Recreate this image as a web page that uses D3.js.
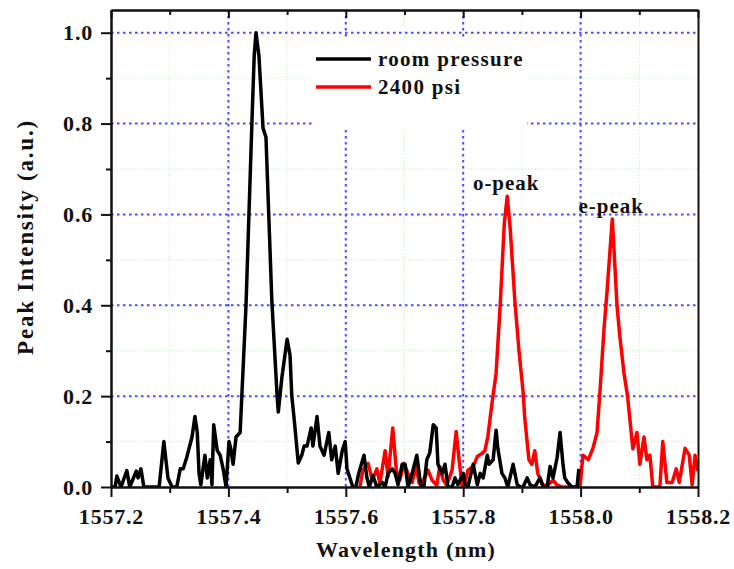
<!DOCTYPE html>
<html>
<head>
<meta charset="utf-8">
<script src="https://cdn.jsdelivr.net/npm/d3@7"></script>
<style>
  body { margin: 0; background: #fff; }
  text { font-family: "Liberation Serif", "Times New Roman", serif; font-weight: bold; fill: #111; }
  .axis .domain, .axis line { stroke: #111; stroke-width: 2; }
  .axis text { font-size: 22px; letter-spacing: 0.8px; }
</style>
</head>
<body>
<script>
// wavelength (nm), normalised peak intensity
var roomPressure = [
  [1557.200,0],[1557.207,0],[1557.210,0.024],[1557.217,0],[1557.227,0.036],[1557.232,0],[1557.243,0.035],[1557.246,0.02],[1557.251,0.04],[1557.256,0],
  [1557.282,0],[1557.290,0.10],[1557.297,0.02],[1557.304,0],[1557.312,0],[1557.318,0.04],[1557.323,0.04],[1557.329,0.065],[1557.338,0.11],[1557.343,0.155],
  [1557.347,0.12],[1557.350,0.03],[1557.353,0.005],[1557.360,0.07],[1557.364,0.02],[1557.369,0.06],[1557.372,0.005],[1557.375,0.137],[1557.381,0.08],[1557.386,0.07],
  [1557.391,0.04],[1557.396,0],[1557.401,0.10],[1557.404,0.085],[1557.408,0.05],[1557.413,0.11],[1557.420,0.12],[1557.425,0.26],[1557.430,0.40],[1557.435,0.60],
  [1557.440,0.80],[1557.444,0.95],[1557.447,1.0],[1557.452,0.95],[1557.459,0.79],[1557.464,0.77],[1557.469,0.59],[1557.474,0.41],[1557.483,0.20],[1557.485,0.165],
  [1557.491,0.24],[1557.500,0.325],[1557.505,0.29],[1557.508,0.20],[1557.512,0.15],[1557.519,0.053],[1557.525,0.07],[1557.529,0.09],[1557.534,0.09],[1557.541,0.13],
  [1557.544,0.09],[1557.551,0.155],[1557.556,0.09],[1557.563,0.07],[1557.571,0.12],[1557.576,0.06],[1557.582,0.09],[1557.587,0.03],[1557.594,0.08],[1557.599,0.10],
  [1557.602,0.04],[1557.607,0.02],[1557.612,0],[1557.617,0],[1557.622,0.03],[1557.631,0.07],[1557.636,0.02],[1557.640,0],[1557.646,0.025],[1557.653,0],
  [1557.662,0.01],[1557.667,0],[1557.672,0.03],[1557.679,0.04],[1557.684,0.03],[1557.689,0.005],[1557.696,0.05],[1557.701,0.05],[1557.706,0],[1557.713,0.03],
  [1557.721,0.07],[1557.728,0],[1557.733,0],[1557.738,0.06],[1557.743,0.075],[1557.749,0.137],[1557.754,0.13],[1557.757,0.05],[1557.764,0.03],[1557.769,0.05],
  [1557.774,0],[1557.781,0],[1557.786,0.02],[1557.791,0.005],[1557.800,0.03],[1557.803,0.005],[1557.808,0],[1557.817,0.05],[1557.824,0.005],[1557.829,0.03],
  [1557.834,0.02],[1557.841,0.07],[1557.844,0.05],[1557.851,0.06],[1557.856,0.125],[1557.859,0.085],[1557.866,0.03],[1557.871,0.02],[1557.876,0],[1557.885,0.05],
  [1557.892,0.005],[1557.897,0],[1557.902,0],[1557.909,0.02],[1557.914,0.005],[1557.922,0],[1557.931,0.02],[1557.936,0],[1557.943,0],[1557.948,0.045],
  [1557.953,0.02],[1557.960,0.065],[1557.965,0.12],[1557.970,0.05],[1557.973,0.02],[1557.978,0.01],[1557.985,0],[1557.994,0],[1557.997,0.04]
];

var highPressure = [
  [1557.624,0],[1557.629,0.037],[1557.638,0.052],[1557.645,0.015],[1557.653,0.04],[1557.658,0.008],[1557.667,0.08],[1557.672,0.023],[1557.680,0.13],[1557.686,0.037],
  [1557.692,0.015],[1557.699,0.052],[1557.706,0.03],[1557.713,0.01],[1557.720,0.045],[1557.725,0.008],[1557.732,0.015],[1557.740,0.037],[1557.747,0.015],[1557.755,0.004],
  [1557.760,0.045],[1557.766,0.015],[1557.772,0.004],[1557.781,0.037],[1557.788,0.122],[1557.793,0.06],[1557.798,0.004],[1557.803,0.008],[1557.808,0.037],[1557.817,0.045],
  [1557.824,0.067],[1557.832,0.074],[1557.837,0.08],[1557.842,0.111],[1557.849,0.184],[1557.856,0.25],[1557.863,0.40],[1557.870,0.58],[1557.875,0.64],[1557.880,0.57],
  [1557.885,0.47],[1557.888,0.41],[1557.895,0.30],[1557.902,0.21],[1557.905,0.15],[1557.912,0.06],[1557.917,0.05],[1557.922,0.08],[1557.927,0.03],[1557.936,0.004],
  [1557.944,0.004],[1557.953,0.015],[1557.960,0.004],[1557.968,0],[1557.978,0],[1557.990,0],[1557.999,0],[1558.004,0.07],[1558.013,0.06],[1558.021,0.085],
  [1558.028,0.12],[1558.033,0.21],[1558.040,0.35],[1558.045,0.43],[1558.054,0.59],[1558.057,0.52],[1558.062,0.40],[1558.067,0.33],[1558.074,0.25],[1558.080,0.20],
  [1558.089,0.084],[1558.096,0.12],[1558.101,0.05],[1558.108,0.11],[1558.113,0.06],[1558.118,0.07],[1558.123,0],[1558.135,0],[1558.140,0.10],[1558.147,0.01],
  [1558.156,0.01],[1558.163,0.04],[1558.168,0.01],[1558.178,0.085],[1558.185,0.07],[1558.190,0.005],[1558.195,0.07],[1558.200,0.035]
];

var seriesNames = ["room pressure", "2400 psi"];
var seriesColors = ["#000000", "#ff0000"];
var xTicks = [1557.2, 1557.4, 1557.6, 1557.8, 1558.0, 1558.2];
var xMinor = [1557.3, 1557.5, 1557.7, 1557.9, 1558.1];
var yTicks = [0.0, 0.2, 0.4, 0.6, 0.8, 1.0];
var yMinor = [0.1, 0.3, 0.5, 0.7, 0.9];
var peakLabels = [["o-peak", 1557.875, 0.64], ["e-peak", 1558.054, 0.59]];

var width = 734, height = 569;
var pLeft = 111, pRight = 698, pTop = 10, pBottom = 487;

var x = d3.scaleLinear().domain([1557.2, 1558.2]).range([pLeft, pRight]),
    y = d3.scaleLinear().domain([0, 1.05]).range([pBottom, pTop]);

var svg = d3.select("body").append("svg")
    .attr("width", width)
    .attr("height", height);

svg.append("clipPath").attr("id", "plot")
  .append("rect")
    .attr("x", pLeft).attr("y", pTop)
    .attr("width", pRight - pLeft).attr("height", pBottom - pTop);

// minor grid (faint green) then major grid (blue dots)
var grid = svg.append("g");
grid.selectAll(".vminor").data(xMinor).enter().append("line")
    .attr("x1", x).attr("x2", x).attr("y1", pTop).attr("y2", pBottom)
    .style("stroke", "#c4eec4").style("stroke-width", 1).style("stroke-dasharray", "1,2");
grid.selectAll(".hminor").data(yMinor).enter().append("line")
    .attr("x1", pLeft).attr("x2", pRight).attr("y1", y).attr("y2", y)
    .style("stroke", "#c4eec4").style("stroke-width", 1).style("stroke-dasharray", "1,2");
grid.selectAll(".vmajor").data(xTicks.slice(1, -1)).enter().append("line")
    .attr("x1", x).attr("x2", x).attr("y1", pTop).attr("y2", pBottom)
    .style("stroke", "#4a4aff").style("stroke-width", 2).style("stroke-dasharray", "2.5,3.5");
grid.selectAll(".hmajor").data(yTicks.slice(1)).enter().append("line")
    .attr("x1", pLeft).attr("x2", pRight).attr("y1", y).attr("y2", y)
    .style("stroke", "#4a4aff").style("stroke-width", 2).style("stroke-dasharray", "2.5,3.5");

// white legend box hides the grid behind it
svg.append("rect")
    .attr("x", 312).attr("y", 38)
    .attr("width", 215).attr("height", 92)
    .style("fill", "#fff");

var line = d3.line()
    .x(function(d) { return x(d[0]); })
    .y(function(d) { return y(d[1]); });

svg.append("g").attr("clip-path", "url(#plot)")
  .selectAll(".series")
    .data([highPressure, roomPressure])
  .enter().append("path")
    .attr("d", line)
    .style("fill", "none")
    .style("stroke", function(d, i) { return i == 0 ? seriesColors[1] : seriesColors[0]; })
    .style("stroke-width", 3.5)
    .style("stroke-linejoin", "round");

// axes
svg.append("g")
    .attr("class", "axis")
    .attr("transform", "translate(0," + pBottom + ")")
    .call(d3.axisBottom(x).tickValues(xTicks).tickSize(10).tickSizeOuter(0).tickPadding(11).tickFormat(d3.format(".1f")));
svg.append("g")
    .attr("class", "axis")
    .attr("transform", "translate(0," + pBottom + ")")
    .call(d3.axisBottom(x).tickValues(xMinor).tickSize(6).tickSizeOuter(0).tickFormat(""));

svg.append("g")
    .attr("class", "axis")
    .attr("transform", "translate(" + pLeft + ",0)")
    .call(d3.axisLeft(y).tickValues(yTicks).tickSize(10).tickSizeOuter(0).tickPadding(8).tickFormat(d3.format(".1f")));
svg.append("g")
    .attr("class", "axis")
    .attr("transform", "translate(" + pLeft + ",0)")
    .call(d3.axisLeft(y).tickValues(yMinor).tickSize(5).tickSizeOuter(0).tickFormat(""));

// top frame with inward ticks, plain right frame
svg.append("g")
    .attr("class", "axis")
    .attr("transform", "translate(0," + pTop + ")")
    .call(d3.axisBottom(x).tickValues(xTicks).tickSize(8).tickSizeOuter(0).tickFormat(""));
svg.append("g")
    .attr("class", "axis")
    .attr("transform", "translate(0," + pTop + ")")
    .call(d3.axisBottom(x).tickValues(xMinor).tickSize(5).tickSizeOuter(0).tickFormat(""));
svg.append("g")
    .attr("class", "axis")
    .attr("transform", "translate(" + pRight + ",0)")
    .call(d3.axisRight(y).tickValues([]).tickSizeOuter(0));

// axis titles
svg.append("text")
    .attr("x", 406)
    .attr("y", 557)
    .style("text-anchor", "middle")
    .style("font-size", "22px")
    .style("letter-spacing", "1.2px")
    .text("Wavelength (nm)");

svg.append("text")
    .attr("transform", "translate(33,237) rotate(-90)")
    .style("text-anchor", "middle")
    .style("font-size", "23px")
    .style("letter-spacing", "1.8px")
    .text("Peak Intensity (a.u.)");

// legend
var legend = svg.selectAll(".legend")
    .data(seriesNames)
  .enter().append("g")
    .attr("class", "legend")
    .attr("transform", function(d, i) { return "translate(316," + (59 + i * 28) + ")"; });

legend.append("line")
    .attr("x1", 0).attr("x2", 55)
    .style("stroke", function(d, i) { return seriesColors[i]; })
    .style("stroke-width", 3.5);

legend.append("text")
    .attr("x", 62)
    .attr("y", 7)
    .style("font-size", "21px")
    .style("letter-spacing", "1.3px")
    .text(function(d) { return d; });

// peak annotations
svg.selectAll(".peak")
    .data(peakLabels)
  .enter().append("text")
    .attr("x", function(d) { return x(d[1]) - 1; })
    .attr("y", function(d) { return y(d[2]) - 6; })
    .style("text-anchor", "middle")
    .style("font-size", "21px")
    .style("letter-spacing", "1px")
    .text(function(d) { return d[0]; });
</script>
</body>
</html>
